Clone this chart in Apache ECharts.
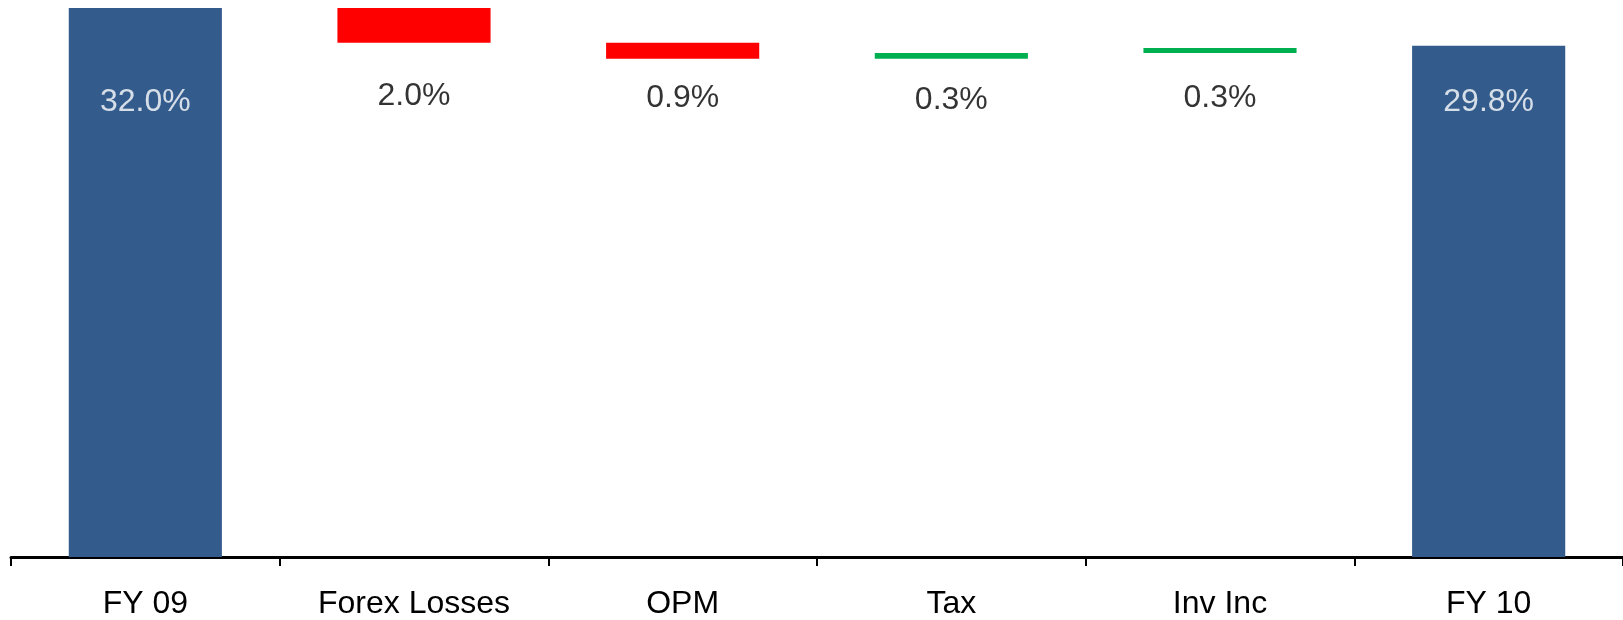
<!DOCTYPE html>
<html>
<head>
<meta charset="utf-8">
<script src="https://cdn.jsdelivr.net/npm/echarts@6/dist/echarts.min.js"></script>
<style>
html,body{margin:0;padding:0;background:#fff;}
#c{width:1623px;height:620px;}
</style>
</head>
<body>
<div id="c"></div>
<script>
// ---- data ----
var categories = ['FY 09', 'Forex Losses', 'OPM', 'Tax', 'Inv Inc', 'FY 10'];
var startValue = 32.0;
var deltas = [-2.03, -0.93, 0.33, 0.30];
var endValue = 29.8;

// ---- style (label vertical placement, in % units of the value axis) ----
var labelLevels = [26.50, 26.86, 26.72, 26.63, 26.72, 26.54];

var BLUE = '#335C8D', RED = '#FF0000', GREEN = '#00B050';
var FONT = '"Liberation Sans", Arial, sans-serif';

var base = [], vals = [], colors = [], labels = [], labelColors = [];
base.push(0); vals.push(startValue); colors.push(BLUE);
labels.push(startValue.toFixed(1) + '%'); labelColors.push('#fff');
var running = startValue;
deltas.forEach(function (d) {
  var next = running + d;
  base.push(Math.min(running, next));
  vals.push(Math.abs(d));
  colors.push(d < 0 ? RED : GREEN);
  labels.push(Math.abs(d).toFixed(1) + '%');
  labelColors.push('#000');
  running = next;
});
base.push(0); vals.push(endValue); colors.push(BLUE);
labels.push(endValue.toFixed(1) + '%'); labelColors.push('#fff');

var chart = echarts.init(document.getElementById('c'), null, {renderer: 'canvas'});
chart.setOption({
  animation: false,
  backgroundColor: '#fff',
  grid: {left: 11, top: 8, width: 1617, bottom: 63, containLabel: false},
  xAxis: [{
    type: 'category',
    data: categories,
    boundaryGap: true,
    axisLine: {show: true, lineStyle: {color: '#000', width: 3}},
    axisTick: {show: true, length: 9, lineStyle: {color: '#000', width: 2}},
    axisLabel: {color: '#000', fontSize: 32, fontFamily: FONT, margin: 31, interval: 0}
  }],
  yAxis: [{
    type: 'value', min: 0, max: 32,
    show: false, splitLine: {show: false}
  }],
  series: [
    {
      type: 'bar', stack: 'w', data: base, barWidth: '57%',
      itemStyle: {color: 'rgba(0,0,0,0)'}, silent: true
    },
    {
      type: 'bar', stack: 'w', barWidth: '57%',
      data: vals.map(function (v, i) { return {value: v, itemStyle: {color: colors[i]}}; })
    },
    {
      type: 'scatter', symbolSize: 0, silent: true,
      data: labelLevels.map(function (y, i) {
        return {value: [i, y], label: {color: labelColors[i]}};
      }),
      label: {
        show: true, position: 'inside', fontSize: 32, fontFamily: FONT,
        formatter: function (p) { return labels[p.dataIndex]; }
      },
      z: 10
    }
  ]
});
</script>
</body>
</html>
